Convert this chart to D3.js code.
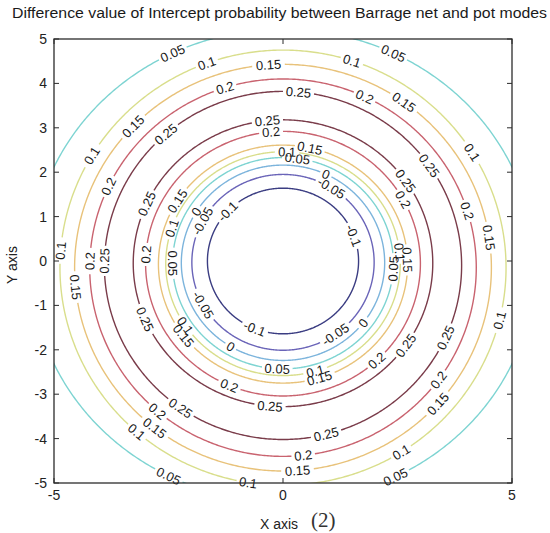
<!DOCTYPE html>
<html>
<head>
<meta charset="utf-8">
<script src="https://cdn.jsdelivr.net/npm/d3@7"></script>
<style>
  body { margin: 0; background: #fff; }
  svg { display: block; }
</style>
</head>
<body>
<svg id="chart" width="550" height="533"></svg>
<script>
// ---- data -------------------------------------------------------------
// Contour levels, inner rising branch first, then the outer falling branch
const levels  = [-0.1, -0.05, 0, 0.05, 0.1, 0.15, 0.2, 0.25, 0.25, 0.2, 0.15, 0.1, 0.05];
// Each contour line traced as an ellipse (axis units): vertical centre and semi-axes
const centerY = [0, -0.03, -0.04, -0.05, -0.06, -0.07, -0.06, -0.05, -0.1, -0.15, -0.15, -0.15, -0.1];
const radiusX = [1.65, 1.99, 2.22, 2.41, 2.56, 2.72, 3.0, 3.27, 3.9, 4.22, 4.55, 4.87, 5.5];
const radiusY = [1.64, 1.98, 2.2, 2.38, 2.52, 2.68, 2.98, 3.23, 3.92, 4.25, 4.58, 4.9, 5.32];
const xTicks = [-5, 0, 5];
const yTicks = [-5, -4, -3, -2, -1, 0, 1, 2, 3, 4, 5];
const titleText = "Difference value of Intercept probability between Barrage net and pot modes";

// ---- layout -----------------------------------------------------------
const plot = { left: 54, right: 512, top: 39, bottom: 483 };
const x = d3.scaleLinear().domain([-5, 5]).range([plot.left, plot.right]);
const y = d3.scaleLinear().domain([-5, 5]).range([plot.bottom, plot.top]);

const color = d3.scaleOrdinal()
  .domain([-0.1, -0.05, 0, 0.05, 0.1, 0.15, 0.2, 0.25])
  .range(["#3b3d82", "#6a64b8", "#7cb4dc", "#7ed4d2", "#d9de8c", "#e8c27a", "#c9636f", "#7a3c4a"]);

// in-line label positions along each contour (parametric angle, degrees)
const labelAngles = [
  [20.5, 137, 248],
  [58, 152, 209, 305],
  [64.8, 148.4, 239, 322],
  [82.6, 180, 267, 357],
  [88, 161.5, 213.7, 286, 6],
  [77.7, 148, 217, 287, 2],
  [95, 176, 247, 313, 29],
  [96, 155.6, 202.8, 265, 325, 35],
  [85, 131, 178.5, 234.8, 284, 335.6, 35],
  [107.6, 65, 154.6, 178, 229.6, 276, 323.6, 17.7],
  [94, 54.6, 136, 185.6, 232, 274, 318, 8.6],
  [72, 110, 149, 175.5, 229, 261, 302, 346, 32],
  [116, 64, 243, 296.5]
];

const svg = d3.select("#chart");
const FONT = "'Liberation Sans', Arial, sans-serif";

svg.append("defs").append("clipPath").attr("id", "plotClip")
  .append("rect")
  .attr("x", plot.left).attr("y", plot.top)
  .attr("width", plot.right - plot.left).attr("height", plot.bottom - plot.top);

const contourLayer = svg.append("g").attr("clip-path", "url(#plotClip)");
const labelLayer = svg.append("g");

const N = 720;
const line = d3.line();

levels.forEach((lev, i) => {
  // sample the contour
  const pts = [];
  for (let k = 0; k < N; k++) {
    const t = k / N * 2 * Math.PI;
    pts.push([x(radiusX[i] * Math.cos(t)), y(centerY[i] + radiusY[i] * Math.sin(t))]);
  }
  const s = [0];
  for (let k = 1; k < N; k++) {
    s.push(s[k - 1] + Math.hypot(pts[k][0] - pts[k - 1][0], pts[k][1] - pts[k - 1][1]));
  }
  const L = s[N - 1] + Math.hypot(pts[0][0] - pts[N - 1][0], pts[0][1] - pts[N - 1][1]);

  // labels
  const gaps = [];
  labelAngles[i].forEach(a => {
    const k0 = Math.round(((a % 360) + 360) % 360 / 360 * N) % N;
    const p = pts[k0];
    const pa = pts[(k0 - 1 + N) % N], pb = pts[(k0 + 1) % N];
    let ang = Math.atan2(pb[1] - pa[1], pb[0] - pa[0]) * 180 / Math.PI;
    if (ang > 90) ang -= 180;
    if (ang < -90) ang += 180;
    const inside = p[0] > plot.left - 2 && p[0] < plot.right + 2 && p[1] > plot.top - 2 && p[1] < plot.bottom + 2;
    if (!inside) return;
    const txt = labelLayer.append("text")
      .attr("transform", `translate(${p[0]},${p[1]}) rotate(${ang})`)
      .attr("text-anchor", "middle")
      .attr("dy", "0.36em")
      .attr("font-family", FONT)
      .attr("font-size", 13)
      .attr("fill", "#1a1a1a")
      .text(String(lev));
    const w = txt.node().getComputedTextLength();
    gaps.push({ s0: s[k0], half: w / 2 + 2.5 });
  });

  // contour segments with gaps at the labels
  const keep = s.map(sv => !gaps.some(g => {
    let d = Math.abs(sv - g.s0);
    d = Math.min(d, L - d);
    return d < g.half;
  }));
  let start = keep.indexOf(false);
  const segs = [];
  if (start < 0) {
    segs.push(pts.concat([pts[0]]));
  } else {
    let cur = [];
    for (let j = 0; j <= N; j++) {
      const k = (start + j) % N;
      if (keep[k]) cur.push(pts[k]);
      else if (cur.length) { segs.push(cur); cur = []; }
    }
    if (cur.length) segs.push(cur);
  }
  contourLayer.selectAll(null).data(segs).enter().append("path")
    .attr("d", line)
    .attr("fill", "none")
    .attr("stroke", color(lev))
    .attr("stroke-width", 1.4)
    .attr("stroke-linejoin", "round");
});

// ---- frame and ticks --------------------------------------------------
const axisColor = "#2b2b2b";
svg.append("rect")
  .attr("x", plot.left).attr("y", plot.top)
  .attr("width", plot.right - plot.left).attr("height", plot.bottom - plot.top)
  .attr("fill", "none").attr("stroke", axisColor).attr("stroke-width", 1.3);

const TL = 5;
const tickG = svg.append("g").attr("stroke", axisColor).attr("stroke-width", 1);
yTicks.forEach(v => {
  tickG.append("line").attr("x1", plot.left).attr("x2", plot.left + TL).attr("y1", y(v)).attr("y2", y(v));
  tickG.append("line").attr("x1", plot.right).attr("x2", plot.right - TL).attr("y1", y(v)).attr("y2", y(v));
});
xTicks.forEach(v => {
  tickG.append("line").attr("x1", x(v)).attr("x2", x(v)).attr("y1", plot.bottom).attr("y2", plot.bottom - TL);
  tickG.append("line").attr("x1", x(v)).attr("x2", x(v)).attr("y1", plot.top).attr("y2", plot.top + TL);
});

svg.append("g").selectAll("text").data(yTicks).enter().append("text")
  .attr("x", plot.left - 7).attr("y", d => y(d)).attr("dy", "0.36em")
  .attr("text-anchor", "end")
  .attr("font-family", FONT).attr("font-size", 14).attr("fill", "#222")
  .text(d => String(d));

svg.append("g").selectAll("text").data(xTicks).enter().append("text")
  .attr("x", d => x(d)).attr("y", plot.bottom + 17)
  .attr("text-anchor", "middle")
  .attr("font-family", FONT).attr("font-size", 14).attr("fill", "#222")
  .text(d => String(d));

// ---- titles -----------------------------------------------------------
svg.append("text")
  .attr("x", 12).attr("y", 18)
  .attr("font-family", FONT).attr("font-size", 14).attr("fill", "#1a1a1a")
  .attr("textLength", 535).attr("lengthAdjust", "spacingAndGlyphs")
  .text(titleText);

svg.append("text")
  .attr("transform", `translate(17,${(plot.top + plot.bottom) / 2 + 4}) rotate(-90)`)
  .attr("text-anchor", "middle")
  .attr("font-family", FONT).attr("font-size", 14).attr("fill", "#222")
  .text("Y axis");

svg.append("text")
  .attr("x", 279).attr("y", 529)
  .attr("text-anchor", "middle")
  .attr("font-family", FONT).attr("font-size", 14).attr("fill", "#222")
  .text("X axis");

svg.append("text")
  .attr("x", 311).attr("y", 527)
  .attr("font-family", "'Liberation Serif', 'Times New Roman', serif")
  .attr("font-size", 21).attr("fill", "#333")
  .text("(2)");
</script>
</body>
</html>
